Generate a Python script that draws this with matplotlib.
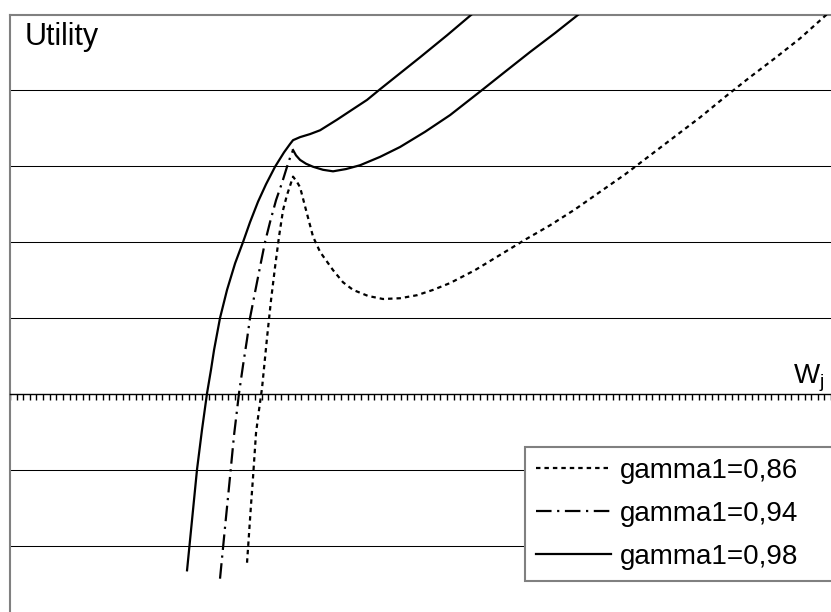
import numpy as np
import matplotlib.pyplot as plt
from matplotlib.ticker import MultipleLocator

plt.rcParams['font.family'] = ['Liberation Sans', 'DejaVu Sans']
plt.rcParams['mathtext.fontset'] = 'custom'
plt.rcParams['mathtext.rm'] = 'Liberation Sans'
plt.rcParams['mathtext.it'] = 'Liberation Sans'

W, H = 831, 612

# Curves (x in category steps, y in gridline units).
x_086 = [35.80, 36.10, 36.40, 36.71, 37.16, 37.61, 38.07, 38.82, 39.43, 40.03,
         40.63, 41.24, 41.84, 42.30, 42.75, 43.35, 43.81, 44.71, 45.77, 46.83,
         48.79, 50.30, 51.81, 54.08, 56.34, 58.91, 61.48, 63.90, 66.47, 70.24,
         74.02, 77.79, 81.57, 85.35, 89.12, 92.90, 96.68, 100.45, 104.23, 108.01,
         111.78, 115.56, 119.34, 123.56]
y_086 = [-2.22, -1.84, -1.46, -1.09, -0.51, -0.21, 0.08, 0.74, 1.24, 1.67,
         2.07, 2.42, 2.62, 2.74, 2.86, 2.79, 2.72, 2.42, 2.07, 1.87,
         1.63, 1.47, 1.37, 1.29, 1.25, 1.26, 1.30, 1.37, 1.46, 1.63,
         1.83, 2.03, 2.22, 2.43, 2.66, 2.89, 3.14, 3.39, 3.64, 3.91,
         4.17, 4.42, 4.68, 5.01]

x_094 = [31.72, 32.48, 33.23, 33.84, 34.59, 35.20, 35.80, 36.25, 37.01, 37.76,
         38.52, 39.27, 40.18, 41.09, 41.84, 42.30, 42.75, 43.20, 43.81, 44.71,
         45.77, 47.28, 48.79, 50.76, 52.87, 55.89, 58.91, 62.69, 66.47, 71.45,
         74.77, 78.55, 82.33, 86.10]
y_094 = [-2.43, -1.75, -1.09, -0.54, 0.01, 0.38, 0.72, 1.00, 1.34, 1.67,
         2.00, 2.26, 2.55, 2.78, 2.99, 3.11, 3.21, 3.14, 3.08, 3.03,
         2.99, 2.95, 2.93, 2.96, 3.01, 3.12, 3.25, 3.45, 3.67, 4.01,
         4.24, 4.50, 4.75, 5.01]

x_098 = [26.74, 27.49, 28.25, 29.00, 29.76, 30.36, 30.82, 31.72, 32.78, 34.00,
         35.20, 36.25, 37.46, 38.67, 40.03, 41.39, 42.30, 42.75, 43.81, 45.32,
         46.83, 49.40, 51.66, 53.93, 55.89, 58.91, 61.93, 66.01, 69.94]
y_098 = [-2.32, -1.66, -0.99, -0.47, 0.01, 0.32, 0.58, 1.00, 1.37, 1.72,
         2.00, 2.26, 2.53, 2.76, 2.99, 3.18, 3.29, 3.34, 3.38, 3.42,
         3.47, 3.61, 3.74, 3.87, 4.01, 4.22, 4.43, 4.72, 5.01]

labels = ['gamma1=0,86', 'gamma1=0,94', 'gamma1=0,98']
gridlines = [-2, -1, 1, 2, 3, 4]

fig = plt.figure(figsize=(W / 100, H / 100), dpi=100)
ax = fig.add_axes([10 / W, 0, 821 / W, 597 / H])
ax.set_xlim(0, 124)
ax.set_ylim(-218 / 76, 379 / 76)

# Horizontal gridlines
for g in gridlines:
    ax.axhline(g, color='black', lw=0.75, zorder=1)

# Frame: gray left/top, x axis through zero with small ticks
ax.spines['right'].set_visible(False)
for s in ['left', 'top']:
    ax.spines[s].set_color('#808080')
    ax.spines[s].set_linewidth(1.5)
ax.spines['bottom'].set_position(('data', 0))
ax.spines['bottom'].set_color('black')
ax.spines['bottom'].set_linewidth(1.0)
ax.xaxis.set_major_locator(MultipleLocator(1))
ax.tick_params(axis='x', direction='out', length=4, width=1, color='black',
               labelbottom=False)
ax.set_yticks([])

lw = 1.6
ipk = int(np.argmax(np.array(y_094[:20])))
ax.plot(x_086, y_086, color='black', lw=lw, ls=(0, (2.0, 1.8)), zorder=3,
        label=labels[0])
ax.plot(x_094[:ipk + 1], y_094[:ipk + 1], color='black', lw=lw,
        ls=(0, (7, 2.5, 1, 2.5)), zorder=3, label=labels[1])
ax.plot(x_094[ipk:], y_094[ipk:], color='black', lw=lw, zorder=3)
ax.plot(x_098, y_098, color='black', lw=lw, zorder=3, label=labels[2])

# Axis captions
fig.text(25 / W, 1 - 45 / H, 'Utility', fontsize=22, va='baseline', ha='left')
fig.text(793 / W, 1 - 383 / H, r'W$_{\rm j}$', fontsize=20, va='baseline', ha='left')

leg = ax.legend(loc='upper left', mode='expand',
                bbox_to_anchor=(525 / W, 1 - 580 / H, 0.5, 133 / H),
                bbox_transform=fig.transFigure, borderaxespad=0,
                fontsize=20, handlelength=2.7, handletextpad=0.35,
                labelspacing=0.62, borderpad=0.38, fancybox=False,
                frameon=True, framealpha=1, edgecolor='#808080')
leg.get_frame().set_linewidth(1.5)
leg.set_zorder(5)

fig.savefig('out.png', dpi=100)
